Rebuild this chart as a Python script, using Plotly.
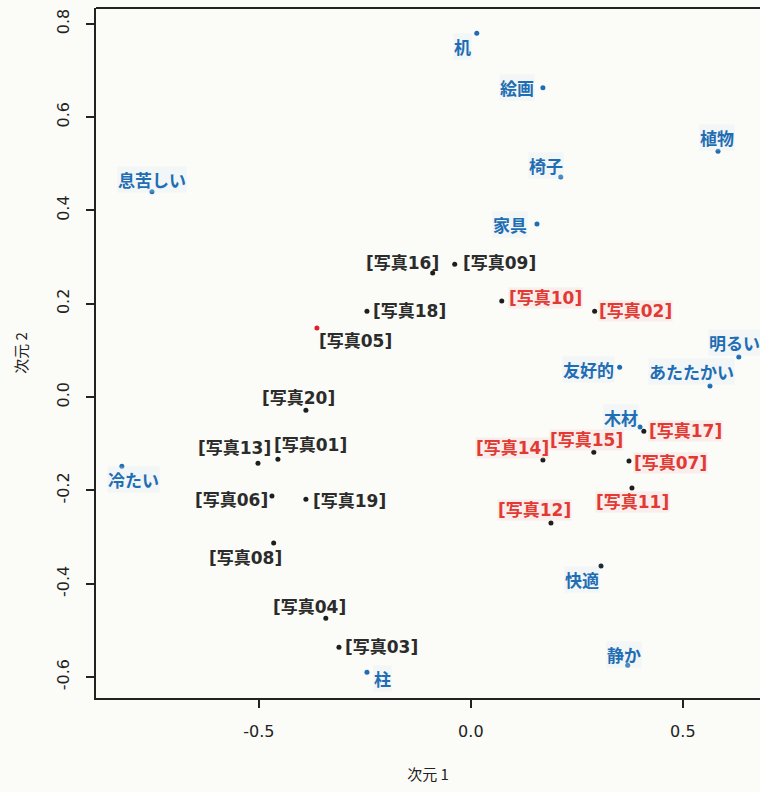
import plotly.graph_objects as go

# ---- data ----
word_labels = ["机", "絵画", "植物", "椅子", "家具", "息苦しい", "冷たい", "明るい",
               "友好的", "あたたかい", "木材", "快適", "静か", "柱"]
word_x = [0.014, 0.170, 0.583, 0.212, 0.156, -0.752, -0.823, 0.632,
          0.351, 0.564, 0.399, 0.307, 0.370, -0.245]
word_y = [0.780, 0.663, 0.527, 0.472, 0.371, 0.440, -0.148, 0.086,
          0.064, 0.024, -0.064, -0.362, -0.575, -0.590]

photo_labels = ["[写真01]", "[写真02]", "[写真03]", "[写真04]", "[写真05]",
                "[写真06]", "[写真07]", "[写真08]", "[写真09]", "[写真10]",
                "[写真11]", "[写真12]", "[写真13]", "[写真14]", "[写真15]",
                "[写真16]", "[写真17]", "[写真18]", "[写真19]", "[写真20]"]
photo_x = [-0.455, 0.292, -0.311, -0.342, -0.363, -0.469, 0.373, -0.465, -0.038, 0.073,
           0.380, 0.189, -0.502, 0.170, 0.290, -0.090, 0.408, -0.245, -0.389, -0.389]
photo_y = [-0.133, 0.184, -0.536, -0.474, 0.148, -0.212, -0.137, -0.313, 0.285, 0.206,
           -0.195, -0.270, -0.142, -0.135, -0.118, 0.266, -0.073, 0.184, -0.219, -0.028]
highlight_photos = ["[写真02]", "[写真07]", "[写真10]", "[写真11]", "[写真12]",
                    "[写真14]", "[写真15]", "[写真17]"]
red_dot_photos = ["[写真05]"]

x_ticks = [-0.5, 0.0, 0.5]
y_ticks = [-0.6, -0.4, -0.2, 0.0, 0.2, 0.4, 0.6, 0.8]
x_title = "次元 1"
y_title = "次元 2"

# ---- styles: label placement (xanchor, xshift px, yshift px) ----
word_pos = {
    "机": ("right", -5, -13), "絵画": ("right", -8, 0), "植物": ("center", -1, 14),
    "椅子": ("center", -15, 11), "家具": ("right", -9, 0), "息苦しい": ("left", -35, 12),
    "冷たい": ("left", -15, -13), "明るい": ("left", -31, 14), "友好的": ("right", -5, -2),
    "あたたかい": ("right", 25, 14), "木材": ("right", -1, 9), "快適": ("right", -1, -14),
    "静か": ("center", -4, 11), "柱": ("left", 6, -6),
}
photo_pos = {
    "[写真01]": ("left", -5, 14), "[写真02]": ("left", 3, 0), "[写真03]": ("left", 5, 0),
    "[写真04]": ("center", -16, 11), "[写真05]": ("left", 1, -13), "[写真06]": ("right", -3, -4),
    "[写真07]": ("left", 4, -2), "[写真08]": ("right", 9, -15), "[写真09]": ("left", 7, 1),
    "[写真10]": ("left", 6, 3), "[写真11]": ("center", 1, -14), "[写真12]": ("right", 21, 13),
    "[写真13]": ("right", 14, 15), "[写真14]": ("right", 7, 12), "[写真15]": ("center", -7, 12),
    "[写真16]": ("right", 7, 10), "[写真17]": ("left", 4, 0), "[写真18]": ("left", 5, 0),
    "[写真19]": ("left", 6, -2), "[写真20]": ("center", -7, 12),
}

BLUE = "#1f6db3"
RED = "#e23a33"
BLACK = "#2b2b2b"
BG = "#fbfbf7"
FONT = "DejaVu Sans, Noto Sans CJK JP, sans-serif"

fig = go.Figure()

photo_dot_colors = ["#e0202a" if p in red_dot_photos else "#1e1e1e" for p in photo_labels]
fig.add_trace(go.Scatter(x=photo_x, y=photo_y, mode="markers",
                         marker=dict(size=5, color=photo_dot_colors),
                         hoverinfo="text", text=photo_labels, showlegend=False))
word_dot_colors = ["#1e2a3a" if w == "快適" else BLUE for w in word_labels]
fig.add_trace(go.Scatter(x=word_x, y=word_y, mode="markers",
                         marker=dict(size=5, color=word_dot_colors),
                         hoverinfo="text", text=word_labels, showlegend=False))

annotations = []
for lab, x, y in zip(word_labels, word_x, word_y):
    xa, dx, dy = word_pos[lab]
    annotations.append(dict(x=x, y=y, text="<b>" + lab + "</b>", showarrow=False,
                            xanchor=xa, yanchor="middle", xshift=dx, yshift=dy,
                            font=dict(family="Noto Sans CJK JP", size=17, color=BLUE),
                            bgcolor="rgba(215,232,245,0.25)", borderpad=0))
for lab, x, y in zip(photo_labels, photo_x, photo_y):
    xa, dx, dy = photo_pos[lab]
    red = lab in highlight_photos
    annotations.append(dict(x=x, y=y, text="<b>" + lab + "</b>", showarrow=False,
                            xanchor=xa, yanchor="middle", xshift=dx, yshift=dy,
                            font=dict(family=FONT, size=17, color=RED if red else BLACK),
                            bgcolor="rgba(245,215,215,0.35)" if red else "rgba(0,0,0,0)",
                            borderpad=0))

fig.update_layout(
    width=760, height=792,
    margin=dict(l=96, r=0, t=8, b=94),
    paper_bgcolor=BG, plot_bgcolor=BG,
    annotations=annotations,
    shapes=[dict(type="line", xref="paper", yref="paper", x0=0, x1=1, y0=1, y1=1,
                 line=dict(color="#222", width=2))],
    xaxis=dict(range=[-0.884, 0.682], tickvals=x_ticks,
               ticktext=[f"{v:.1f}" for v in x_ticks],
               showgrid=False, zeroline=False, showline=True, linecolor="#222", linewidth=2,
               ticks="outside", ticklen=8, tickwidth=1.5, tickcolor="#222",
               ticklabelstandoff=10,
               tickfont=dict(family="DejaVu Sans", size=16, color="#222"),
               title=dict(text=x_title, standoff=29,
                          font=dict(family="Noto Sans CJK JP", size=15, color="#222"))),
    yaxis=dict(range=[-0.645, 0.834], tickvals=y_ticks,
               ticktext=[f"{v:.1f}" for v in y_ticks],
               showgrid=False, zeroline=False, showline=True, linecolor="#222", linewidth=2,
               ticks="outside", ticklen=8, tickwidth=1.5, tickcolor="#222",
               tickangle=-90, ticklabelstandoff=11,
               tickfont=dict(family="DejaVu Sans", size=16, color="#222"),
               title=dict(text=y_title, standoff=22,
                          font=dict(family="Noto Sans CJK JP", size=15, color="#222"))),
)

fig.write_html("out.html", config={"displayModeBar": False},
               post_script="document.body.style.margin='0';document.body.style.overflow='hidden';")
